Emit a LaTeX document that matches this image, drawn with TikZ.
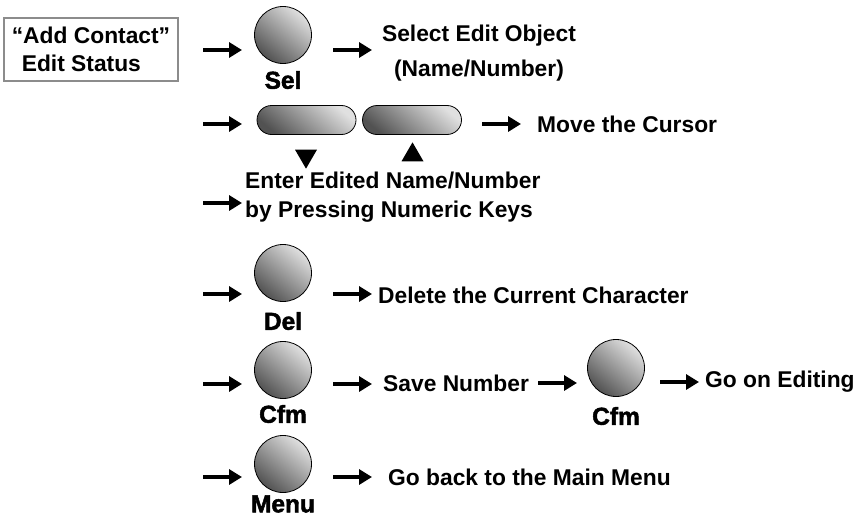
\documentclass[tikz,border=0pt]{standalone}
\usepackage{fontspec}
\setmainfont{Liberation Sans}
\newfontfamily\keyfont[FakeBold=2]{Liberation Sans Bold}
\usetikzlibrary{arrows.meta,shapes.misc,shapes.geometric}
\tikzset{
  txt/.style={font=\fontsize{22.8}{28}\selectfont\bfseries, inner sep=0pt},
  keylbl/.style={font=\fontsize{24.5}{28}\keyfont, inner sep=0pt},
  shadebtn/.style={draw=black, line width=0.8pt, top color=black!12, bottom color=black!68, shading angle=-40},
  btn/.style={shadebtn, circle, minimum size=57pt, inner sep=0pt},
  pill/.style={shadebtn, rounded rectangle, minimum width=99pt, minimum height=29pt, inner sep=0pt},
  arr/.style={line width=4pt, -{Triangle[length=13pt,width=15pt]}},
  tri/.style={isosceles triangle, isosceles triangle stretches, fill=black, inner sep=0pt, minimum width=22pt, minimum height=19pt},
}
\begin{document}
\begin{tikzpicture}[x=1pt,y=-1pt]
\useasboundingbox (0,0) rectangle (861,519);
% start box
\node[draw=black!45, line width=2pt, minimum width=174pt, minimum height=63pt, txt, align=left] (box) at (91,49.5) {“Add Contact”\\\hspace*{10pt}Edit Status};
% row 1
\node[btn] (sel) at (283,35) {};
\node[keylbl] (sellbl) at (283,80) {Sel};
\node[txt, align=center] (seltxt) at (479,53.5) {Select Edit Object\\[7pt](Name/Number)};
\coordinate (a1s) at (203,50); \coordinate (a1e) at (242,50);
\coordinate (b1s) at (333,50); \coordinate (b1e) at (372,50);
\draw[arr] (a1s) -- (a1e);
\draw[arr] (b1s) -- (b1e);
% row 2
\node[pill] (pdn) at (306.5,120) {};
\node[pill] (pup) at (412,120) {};
\node[tri, shape border rotate=270] (tdn) at (306,156) {};
\node[tri, shape border rotate=90] (tup) at (412.5,155) {};
\node[txt, anchor=west] (movetxt) at (537,124) {Move the Cursor};
\coordinate (a2s) at (203,124); \coordinate (a2e) at (242,124);
\coordinate (b2s) at (482,124); \coordinate (b2e) at (521,124);
\draw[arr] (a2s) -- (a2e);
\draw[arr] (b2s) -- (b2e);
% row 3
\node[txt, anchor=west, align=left] (entertxt) at (245,197.5) {Enter Edited Name/Number\\[1pt]by Pressing Numeric Keys};
\coordinate (a3s) at (203,203); \coordinate (a3e) at (242,203);
\draw[arr] (a3s) -- (a3e);
% row 4
\node[btn] (del) at (283,273) {};
\node[keylbl] (dellbl) at (283,321) {Del};
\node[txt, anchor=west] (deltxt) at (378,295) {Delete the Current Character};
\coordinate (a4s) at (203,294); \coordinate (a4e) at (242,294);
\coordinate (b4s) at (333,294); \coordinate (b4e) at (372,294);
\draw[arr] (a4s) -- (a4e);
\draw[arr] (b4s) -- (b4e);
% row 5
\node[btn] (cfm) at (283,370) {};
\node[keylbl] (cfmlbl) at (283,414) {Cfm};
\node[txt, anchor=west] (savetxt) at (383,383) {Save Number};
\node[btn] (cfm2) at (616,368) {};
\node[keylbl] (cfm2lbl) at (616,416) {Cfm};
\node[txt, anchor=west] (gotxt) at (705,382) {Go on Editing};
\coordinate (a5s) at (203,384); \coordinate (a5e) at (242,384);
\coordinate (b5s) at (333,384); \coordinate (b5e) at (372,384);
\coordinate (c5s) at (538,383); \coordinate (c5e) at (577,383);
\coordinate (d5s) at (660,382); \coordinate (d5e) at (699,382);
\draw[arr] (a5s) -- (a5e);
\draw[arr] (b5s) -- (b5e);
\draw[arr] (c5s) -- (c5e);
\draw[arr] (d5s) -- (d5e);
% row 6
\node[btn] (menu) at (283,464) {};
\node[keylbl] (menulbl) at (283,504) {Menu};
\node[txt, anchor=west] (menutxt) at (388,477) {Go back to the Main Menu};
\coordinate (a6s) at (203,477); \coordinate (a6e) at (242,477);
\coordinate (b6s) at (333,477); \coordinate (b6e) at (372,477);
\draw[arr] (a6s) -- (a6e);
\draw[arr] (b6s) -- (b6e);
\end{tikzpicture}
\end{document}
